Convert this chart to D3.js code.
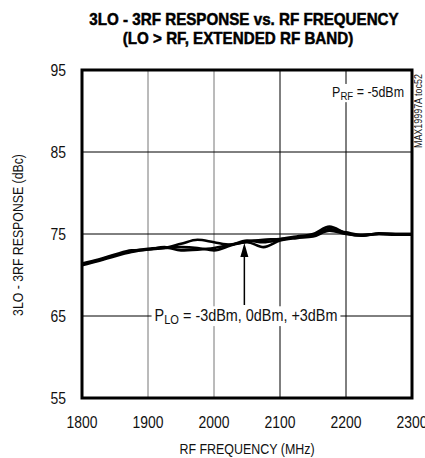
<!DOCTYPE html>
<html><head><meta charset="utf-8">
<script src="https://cdn.jsdelivr.net/npm/d3@7"></script>
<style>body{margin:0;background:#fff}svg{display:block}text{font-family:"Liberation Sans",Arial,sans-serif}</style>
</head><body>
<svg id="c" width="425" height="458"></svg>
<script>
const freq = [1800,1825,1850,1875,1900,1925,1950,1975,2000,2025,2050,2075,2100,2125,2150,2175,2200,2225,2250,2275,2300];
const plo_m3 = [71.2,71.7,72.3,72.8,73.1,73.3,73.8,74.3,74.0,73.7,74.1,74.3,74.4,74.7,75.0,75.9,75.1,74.8,75.1,75.0,75.0];
const plo_0  = [71.3,71.8,72.4,72.9,73.2,73.3,73.4,73.3,73.0,73.6,74.2,74.0,74.3,74.6,74.9,75.6,75.2,74.9,75.0,75.0,75.0];
const plo_p3 = [71.4,71.9,72.5,73.0,73.1,73.4,73.0,73.1,73.3,73.7,74.0,73.4,74.2,74.5,74.7,75.4,75.0,74.8,75.0,74.9,74.9];
const xTicks = [1800,1900,2000,2100,2200,2300];
const yTicks = [55,65,75,85,95];

const svg = d3.select("#c");
const L=82,R=412,T=70,B=398;
const x = d3.scaleLinear().domain([1800,2300]).range([L,R]);
const y = d3.scaleLinear().domain([55,95]).range([B,T]);

const gGrid = svg.append("g");
const gBg = svg.append("g");
const gData = svg.append("g");
const gText = svg.append("g");

function ntext(px, py, str, opt={}) {
  const g = gText.append("g").attr("transform",`translate(${px},${py}) ${opt.rot?`rotate(${opt.rot})`:""} scale(${opt.sx||0.9},1)`);
  const t = g.append("text").attr("text-anchor",opt.anchor||"middle").attr("font-size",opt.fs||15).attr("fill","#111");
  if (opt.bold) t.attr("font-weight","bold").attr("stroke","#000").attr("stroke-width",0.5).attr("fill","#000");
  t.text(str);
  return t;
}

// grid
[1900,2000].forEach(v=>gGrid.append("line").attr("x1",x(v)).attr("x2",x(v)).attr("y1",T).attr("y2",B).attr("stroke","#777").attr("stroke-width",1));
[2100,2200].forEach(v=>gGrid.append("line").attr("x1",x(v)).attr("x2",x(v)).attr("y1",T).attr("y2",B).attr("stroke","#000").attr("stroke-width",1));
[65,75,85].forEach(v=>gGrid.append("line").attr("x1",L).attr("x2",R).attr("y1",y(v)).attr("y2",y(v)).attr("stroke","#000").attr("stroke-width",1));

// curves
const line = d3.line().x((d,i)=>x(freq[i])).y(d=>y(d)).curve(d3.curveMonotoneX);
[plo_m3,plo_0,plo_p3].forEach(s=>gData.append("path").attr("d",line(s)).attr("fill","none").attr("stroke","#000").attr("stroke-width",2.6));

// frame
gData.append("rect").attr("x",L).attr("y",T).attr("width",R-L).attr("height",B-T).attr("fill","none").attr("stroke","#000").attr("stroke-width",3);

// axes labels
xTicks.forEach(v=>ntext(x(v),428,v,{fs:16,sx:0.87}));
yTicks.forEach(v=>ntext(66,y(v)+6,v,{anchor:"end",fs:16,sx:0.87}));
ntext((L+R)/2,454,"RF FREQUENCY (MHz)",{fs:15,sx:0.83});
ntext(23,235,"3LO - 3RF RESPONSE (dBc)",{rot:-90,fs:15,sx:0.82});

// title
ntext(244,25,"3LO - 3RF RESPONSE vs. RF FREQUENCY",{fs:16.5,bold:true,sx:0.92});
ntext(238,44,"(LO > RF, EXTENDED RF BAND)",{fs:16.5,bold:true,sx:0.92});

// PRF label
function subLabel(px, py, main, sub, rest, anchor, fs, sx) {
  const t = ntext(px, py, "", {anchor, fs, sx});
  t.append("tspan").text(main);
  t.append("tspan").attr("font-size",fs*0.77).attr("dy",3).text(sub);
  t.append("tspan").attr("dy",-3).text(rest);
  const g = t.node().parentNode;
  const r = g.getBoundingClientRect();
  gBg.append("rect").attr("x",r.left-3).attr("y",r.top).attr("width",r.width+6).attr("height",r.height).attr("fill","#fff");
  return t;
}
subLabel(404,97,"P","RF"," = -5dBm","end",15,0.83);
subLabel(246,y(65)+5,"P","LO"," = -3dBm, 0dBm, +3dBm","middle",16,0.9);

// arrow
const ax0 = x(2046);
gData.append("line").attr("x1",ax0).attr("x2",ax0).attr("y1",305).attr("y2",255).attr("stroke","#000").attr("stroke-width",1.5);
gData.append("path").attr("d",`M${ax0},${y(73.9)} L${ax0-4},${y(73.9)+14} L${ax0+4},${y(73.9)+14} Z`).attr("fill","#000");

// side id
ntext(422,148,"MAX19997A toc52",{rot:-90,anchor:"start",fs:10.5,sx:0.85});
</script>
</body></html>
